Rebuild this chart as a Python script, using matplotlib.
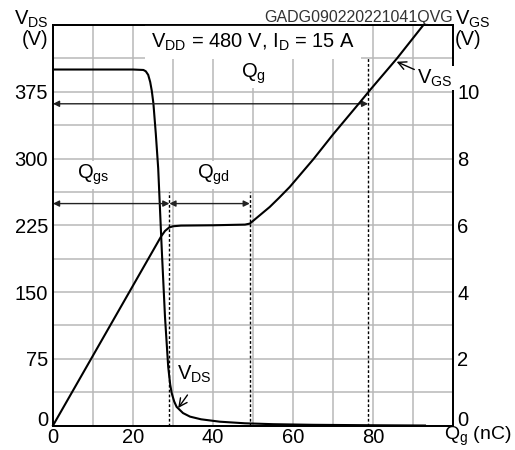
import matplotlib
matplotlib.use('Agg')
import matplotlib.pyplot as plt
import numpy as np

plt.rcParams['font.family'] = ['Liberation Sans', 'DejaVu Sans']
plt.rcParams['mathtext.fontset'] = 'custom'
plt.rcParams['mathtext.rm'] = 'Liberation Sans'
plt.rcParams['mathtext.it'] = 'Liberation Sans'
plt.rcParams['mathtext.default'] = 'regular'

FONT_SIZE = 14.5
GRID_COLOR = '#b8b8b8'

# gate charge (nC) / drain-source voltage (V)
qg_vds = [0, 20, 22.6, 23.2, 23.8, 24.3, 24.7, 25.1, 25.7, 26.3, 27.2, 28.0, 28.8,
          29.3, 29.7, 30.3, 30.9, 32.5, 34.25, 37, 41.7, 48, 55, 65, 80, 93]
vds = [400, 400, 399.5, 398, 394, 386, 376, 362, 328, 289, 197, 122, 66,
       46, 36, 27, 21, 14, 10, 7, 4.3, 2.5, 1.5, 0.8, 0.3, 0]

# gate charge (nC) / gate-source voltage (V)
qg_vgs = [0, 26, 27, 28, 29, 30, 32, 40, 48, 49.2, 50.5, 52, 54.2, 56.5, 59.2,
          65.1, 70, 76.7, 79.6, 86, 92.6]
vgs = [0, 5.45, 5.66, 5.83, 5.93, 5.97, 5.99, 6.0, 6.02, 6.05, 6.18, 6.33, 6.55,
       6.82, 7.15, 7.98, 8.72, 9.68, 10.1, 11.0, 12.0]

q_gs = 29.1
q_gd_end = 49.2
q_g = 78.8

x_ticks = [0, 20, 40, 60, 80]
vds_ticks = [0, 75, 150, 225, 300, 375]
vgs_ticks = [0, 2, 4, 6, 8, 10]

fig = plt.figure(figsize=(5.15, 4.5), dpi=100)
ax1 = fig.add_axes([0.1029, 0.0544, 0.7767, 0.8900])
ax2 = ax1.twinx()

ax1.set_xlim(0, 100)
ax1.set_ylim(0, 450)
ax2.set_ylim(0, 12)

ax1.set_xticks(x_ticks)
ax1.set_xticks(np.arange(0, 101, 10), minor=True)
ax1.set_yticks(vds_ticks)
ax1.set_yticks(np.arange(0, 451, 37.5), minor=True)
ax2.set_yticks(vgs_ticks)
ax1.set_axisbelow(True)
ax1.grid(which='both', color=GRID_COLOR, lw=1.1)

for ax in (ax1, ax2):
    ax.tick_params(which='both', length=0, labelsize=FONT_SIZE)
    for sp in ax.spines.values():
        sp.set_linewidth(1.3)
ax1.tick_params(axis='y', pad=3.5)
ax1.tick_params(axis='x', pad=2)
ax2.tick_params(axis='y', pad=3)
ax1.get_yticklabels()[0].set_va('baseline')
ax2.get_yticklabels()[0].set_va('baseline')

ax1.plot(qg_vds, vds, color='black', lw=1.5, zorder=4)
ax2.plot(qg_vgs, vgs, color='black', lw=1.5, zorder=4, clip_on=False)

# charge markers
for q, top in [(q_gs, 7), (q_gd_end, 7), (q_g, 11)]:
    ax2.plot([q, q], [0, top], color='black', lw=1, ls=(0, (2, 1.5)), zorder=3)

arrow = dict(arrowstyle='<|-|>', lw=1, color='#222222', mutation_scale=9,
             shrinkA=0, shrinkB=0)
ax2.annotate('', xy=(0, 9.64), xytext=(q_g, 9.64), arrowprops=arrow)
ax2.annotate('', xy=(0, 6.65), xytext=(q_gs, 6.65), arrowprops=arrow)
ax2.annotate('', xy=(q_gs, 6.65), xytext=(q_gd_end, 6.65), arrowprops=arrow)

box = dict(facecolor='white', edgecolor='none', pad=1.5)
ax2.text(10, 7.5, r'Q$_{gs}$', fontsize=FONT_SIZE, ha='center', va='center', bbox=box)
ax2.text(40, 7.5, r'Q$_{gd}$', fontsize=FONT_SIZE, ha='center', va='center', bbox=box)
ax2.text(50, 10.55, r'Q$_{g}$', fontsize=FONT_SIZE, ha='center', va='center', bbox=box)
ax2.text(50, 11.48, r'V$_{DD}$ = 480 V, I$_{D}$ = 15 A', fontsize=FONT_SIZE,
         ha='center', va='center', zorder=2,
         bbox=dict(facecolor='white', edgecolor='none', pad=4.5))

ax2.annotate(r'V$_{GS}$', xy=(85.9, 10.9), xytext=(91, 10.4), fontsize=FONT_SIZE,
             ha='left', va='center',
             bbox=dict(facecolor='white', edgecolor='none', pad=1),
             arrowprops=dict(arrowstyle='->', lw=1, color='black',
                             shrinkA=1, shrinkB=0))
ax1.annotate(r'V$_{DS}$', xy=(31.3, 19.7), xytext=(31, 57), fontsize=FONT_SIZE,
             ha='left', va='center',
             arrowprops=dict(arrowstyle='->', lw=1, color='black',
                             shrinkA=6, shrinkB=0, relpos=(0.5, 0)))

ax1.text(-0.012, 1.04, 'V$_{DS}$\n(V)', transform=ax1.transAxes, fontsize=FONT_SIZE,
         ha='right', va='top', multialignment='right', linespacing=1.0)
ax1.text(1.005, 1.04, 'V$_{GS}$\n(V)', transform=ax1.transAxes, fontsize=FONT_SIZE,
         ha='left', va='top', linespacing=1.0)
fig.text(0.994, 0.004, 'Q$_{g}$ (nC)', fontsize=14, ha='right', va='bottom')
ax1.text(1.0, 1.0, 'GADG090220221041QVG', transform=ax1.transAxes, fontsize=11.5,
         color='#333333', ha='right', va='bottom')

fig.savefig('out.png', dpi=100)
